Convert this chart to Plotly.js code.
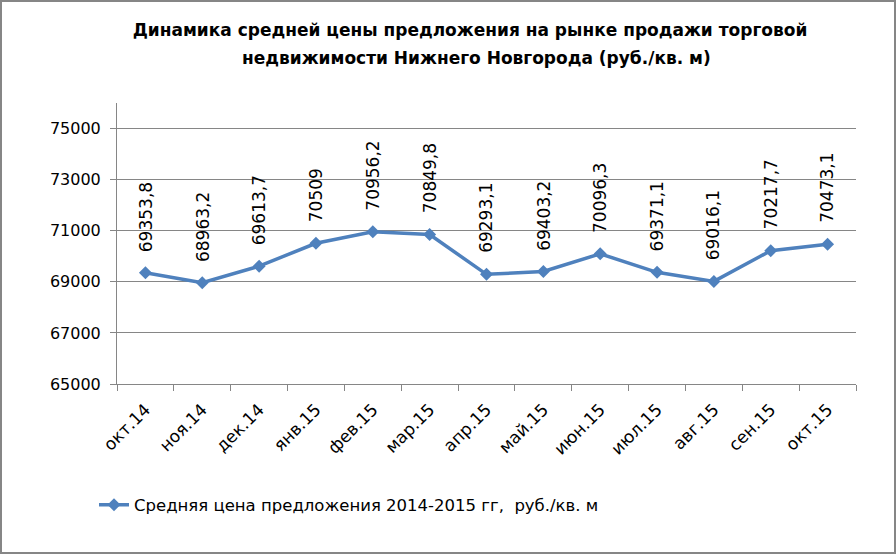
<!DOCTYPE html>
<html>
<head>
<meta charset="utf-8">
<script src="https://cdn.plot.ly/plotly-3.0.1.min.js"></script>
<style>
html,body{margin:0;padding:0;background:#fff;}
#wrap{width:892px;height:550px;border:2px solid #868686;}
#chart{width:892px;height:550px;}
</style>
</head>
<body>
<div id="wrap"><div id="chart"></div></div>
<script>
const titleLine1 = "Динамика средней цены предложения на рынке продажи торговой";
const titleLine2 = "недвижимости Нижнего Новгорода (руб./кв. м)";
const categories = ["окт.14","ноя.14","дек.14","янв.15","фев.15","мар.15","апр.15","май.15","июн.15","июл.15","авг.15","сен.15","окт.15"];
const prices = [69353.8, 68963.2, 69613.7, 70509, 70956.2, 70849.8, 69293.1, 69403.2, 70096.3, 69371.1, 69016.1, 70217.7, 70473.1];
const seriesName = "Средняя цена предложения 2014-2015 гг,\u00a0 руб./кв. м";

const fontFamily = "DejaVu Sans, sans-serif";
const grey = "#868686";
const blue = "#4F81BD";

const trace = {
  x: categories,
  y: prices,
  type: "scatter",
  mode: "lines+markers",
  name: seriesName,
  line: {color: blue, width: 3.5},
  marker: {symbol: "diamond", size: 10, color: blue},
  hoverinfo: "skip",
  showlegend: true
};

const annotations = categories.map((c, i) => ({
  x: c,
  y: prices[i],
  xref: "x",
  yref: "y",
  text: String(prices[i]).replace(".", ","),
  textangle: -90,
  showarrow: false,
  xanchor: "center",
  yanchor: "bottom",
  yshift: 19,
  font: {family: fontFamily, size: 17, color: "#000"}
}));

annotations.push({
  text: titleLine2,
  xref: "paper",
  yref: "paper",
  x: (476 - 117) / 738.5,
  y: 1 + (103 - 58) / 281,
  xanchor: "center",
  yanchor: "middle",
  showarrow: false,
  font: {family: fontFamily, size: 17, color: "#000", weight: "bold"}
});

const layout = {
  width: 892,
  height: 550,
  margin: {l: 115, r: 38, t: 101, b: 168},
  paper_bgcolor: "#fff",
  plot_bgcolor: "#fff",
  title: {
    text: titleLine1,
    font: {family: fontFamily, size: 17, color: "#000", weight: "bold"},
    xref: "container",
    x: 468 / 892,
    xanchor: "center",
    yref: "container",
    y: 1 - 28 / 550,
    yanchor: "middle"
  },
  xaxis: {
    type: "category",
    range: [-0.5, 12.5],
    tickson: "boundaries",
    ticks: "outside",
    ticklen: 6,
    tickcolor: grey,
    showline: true,
    linecolor: grey,
    linewidth: 1,
    showgrid: false,
    tickangle: -45,
    ticklabelstandoff: 8,
    tickfont: {family: fontFamily, size: 17, color: "#000"},
    fixedrange: true
  },
  yaxis: {
    range: [65000, 76000],
    tick0: 65000,
    dtick: 2000,
    tickformat: "d",
    showgrid: true,
    gridcolor: grey,
    gridwidth: 1,
    zeroline: false,
    showline: true,
    linecolor: grey,
    linewidth: 1,
    ticks: "outside",
    ticklen: 6,
    tickcolor: grey,
    ticklabelstandoff: 6,
    tickfont: {family: fontFamily, size: 16, color: "#000"},
    fixedrange: true
  },
  showlegend: true,
  legend: {
    orientation: "h",
    xref: "container",
    yref: "container",
    x: 92 / 892,
    xanchor: "left",
    y: 1 - 503 / 550,
    yanchor: "middle",
    font: {family: fontFamily, size: 16.5, color: "#000"},
    bgcolor: "rgba(0,0,0,0)"
  },
  annotations: annotations
};

Plotly.newPlot("chart", [trace], layout, {displayModeBar: false, staticPlot: true});
</script>
</body>
</html>
